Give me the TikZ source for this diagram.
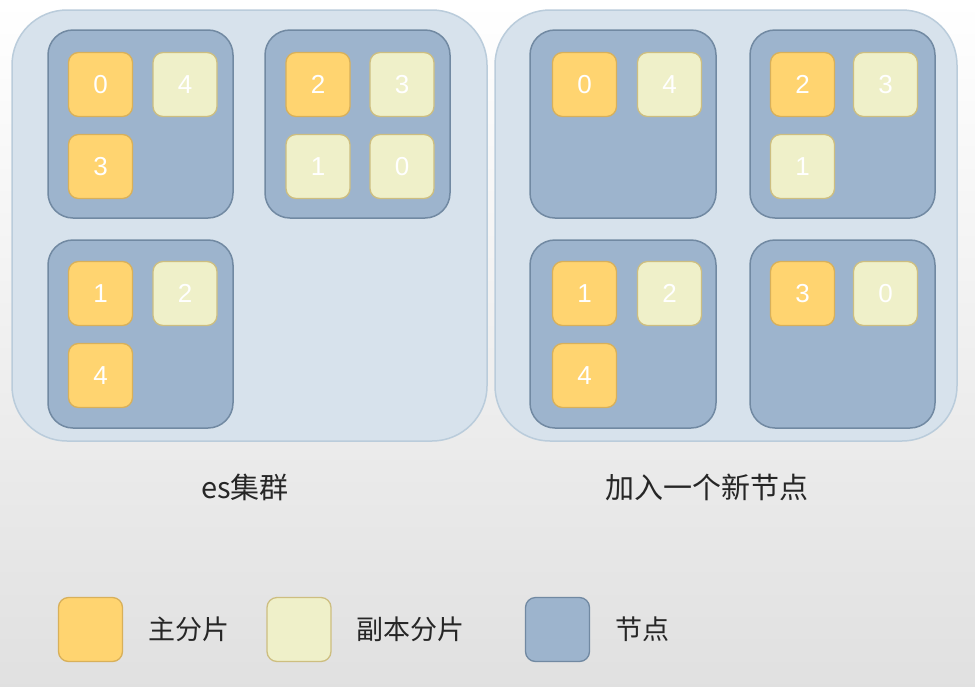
\documentclass[tikz,border=0pt]{standalone}
\usepackage{fontspec}
\setmainfont{Liberation Sans}
\newfontfamily\cjk{Noto Sans CJK SC}
\usetikzlibrary{positioning}
\definecolor{primfill}{HTML}{FFD470}
\definecolor{primline}{HTML}{D8B05A}
\definecolor{replfill}{HTML}{EFF0C9}
\definecolor{replline}{HTML}{CDBE80}
\definecolor{nodefill}{HTML}{9DB4CD}
\definecolor{nodeline}{HTML}{7189A2}
\definecolor{clusfill}{HTML}{D7E2EC}
\definecolor{clusline}{HTML}{BACCDB}
\tikzset{
  shard/.style={minimum width=64pt, minimum height=64pt, inner sep=0pt,
    rounded corners=10pt, line width=1.3pt, text=white,
    font=\fontsize{26}{28}\selectfont},
  primary/.style={shard, fill=primfill, draw=primline},
  replica/.style={shard, fill=replfill, draw=replline},
  server/.style={fill=nodefill, draw=nodeline, line width=1.5pt, rounded corners=25pt},
  legserver/.style={shard, fill=nodefill, draw=nodeline},
  cluster/.style={fill=clusfill, draw=clusline, line width=1.5pt, rounded corners=55pt},
  caption/.style={inner sep=0pt, text=black!85, font=\cjk\fontsize{29}{32}\selectfont},
  legtext/.style={caption, font=\cjk\fontsize{27}{30}\selectfont}
}

\begin{document}
\begin{tikzpicture}[x=1pt,y=-1pt]
\useasboundingbox (0,0) rectangle (975,686);
\shade[top color=white, bottom color=black!12] (0,0) rectangle (975,686);

% the two clusters
\draw[cluster] (12,10) rectangle (487,441);
\draw[cluster] (495,10) rectangle (957,441);

% servers, before and after
\draw[server] (48,30) rectangle (233,218);
\draw[server] (265,30) rectangle (450,218);
\draw[server] (48,240) rectangle (233,428);
\draw[server] (530,30) rectangle (716,218);
\draw[server] (750,30) rectangle (935,218);
\draw[server] (530,240) rectangle (716,428);
\draw[server] (750,240) rectangle (935,428);

% shards
\foreach \id/\x/\y/\kind/\num in {
  a0/100.5/84.5/primary/0, a4/185/84.5/replica/4, a3/100.5/166.5/primary/3,
  b2/318/84.5/primary/2, b3/402/84.5/replica/3, b1/318/166.5/replica/1, b0/402/166.5/replica/0,
  c1/100.5/293.5/primary/1, c2/185/293.5/replica/2, c4/100.5/375.5/primary/4,
  d0/584.5/84.5/primary/0, d4/669.5/84.5/replica/4,
  e2/802.5/84.5/primary/2, e3/885.5/84.5/replica/3, e1/802.5/166.5/replica/1,
  f1/584.5/293.5/primary/1, f2/669.5/293.5/replica/2, f4/584.5/375.5/primary/4,
  g3/802.5/293.5/primary/3, g0/885.5/293.5/replica/0}
  \node[\kind] (s\id) at (\x,\y) {\num};

% captions
\node[caption] (before) at (245,487) {es集群};
\node[caption] (after) at (707,487) {加入一个新节点};

% legend
\node[primary] (legprim) at (90.5,629.5) {};
\node[legtext, right=25pt of legprim] (legprimtext) {主分片};
\node[replica] (legrepl) at (299,629.5) {};
\node[legtext, right=25pt of legrepl] (legrepltext) {副本分片};
\node[legserver] (legnode) at (557.5,629.5) {};
\node[legtext, right=25pt of legnode] (legnodetext) {节点};
\end{tikzpicture}
\end{document}
